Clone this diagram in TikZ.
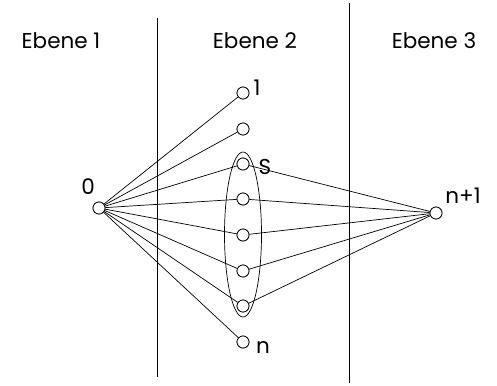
\documentclass[tikz,border=0pt]{standalone}
\usepackage{fontspec}
\setmainfont{Poppins}
\begin{document}
\begin{tikzpicture}[x=1pt,y=-1pt,
  vtx/.style={circle,draw,inner sep=0pt,minimum size=12pt,fill=white,line width=0.7pt},
  lbl/.style={font=\fontsize{21.5}{21.5}\selectfont,inner sep=0pt},
  edge/.style={line width=0.7pt},
  every path/.style={line width=0.7pt}]
\useasboundingbox (0,0) rectangle (497,385);
% level separators
\draw (157,18) -- (157,377);
\draw (349,3) -- (349,383);
% level titles
\node[lbl] (e1) at (61,41) {Ebene 1};
\node[lbl] (e2) at (255,41) {Ebene 2};
\node[lbl] (e3) at (434,41) {Ebene 3};
% grouping of the inner vertices
\draw (243,234.5) ellipse [x radius=18.5, y radius=82.5];
% vertices
\node[vtx] (s0) at (99,208) {};
\node[vtx] (t)  at (436,213) {};
\foreach \i/\y in {1/93,2/129,3/164,4/199,5/235,6/271,7/306,8/342}
  \node[vtx] (m\i) at (243,\y) {};
% edges
\foreach \i in {1,...,8} \draw[edge] (s0) -- (m\i);
\foreach \i in {3,...,7} \draw[edge] (m\i) -- (t);
% redraw vertices over the edges
\node[vtx] at (s0) {};
\node[vtx] at (t) {};
\foreach \i in {1,...,8} \node[vtx] at (m\i) {};
% vertex labels
\node[lbl] (l0) at (88,187) {0};
\node[lbl] (lt) at (463,196) {n+1};
\node[lbl] (l1) at (257,88) {1};
\node[lbl] (ls) at (265,167) {S};
\node[lbl] (ln) at (263,347) {n};
\end{tikzpicture}
\end{document}
